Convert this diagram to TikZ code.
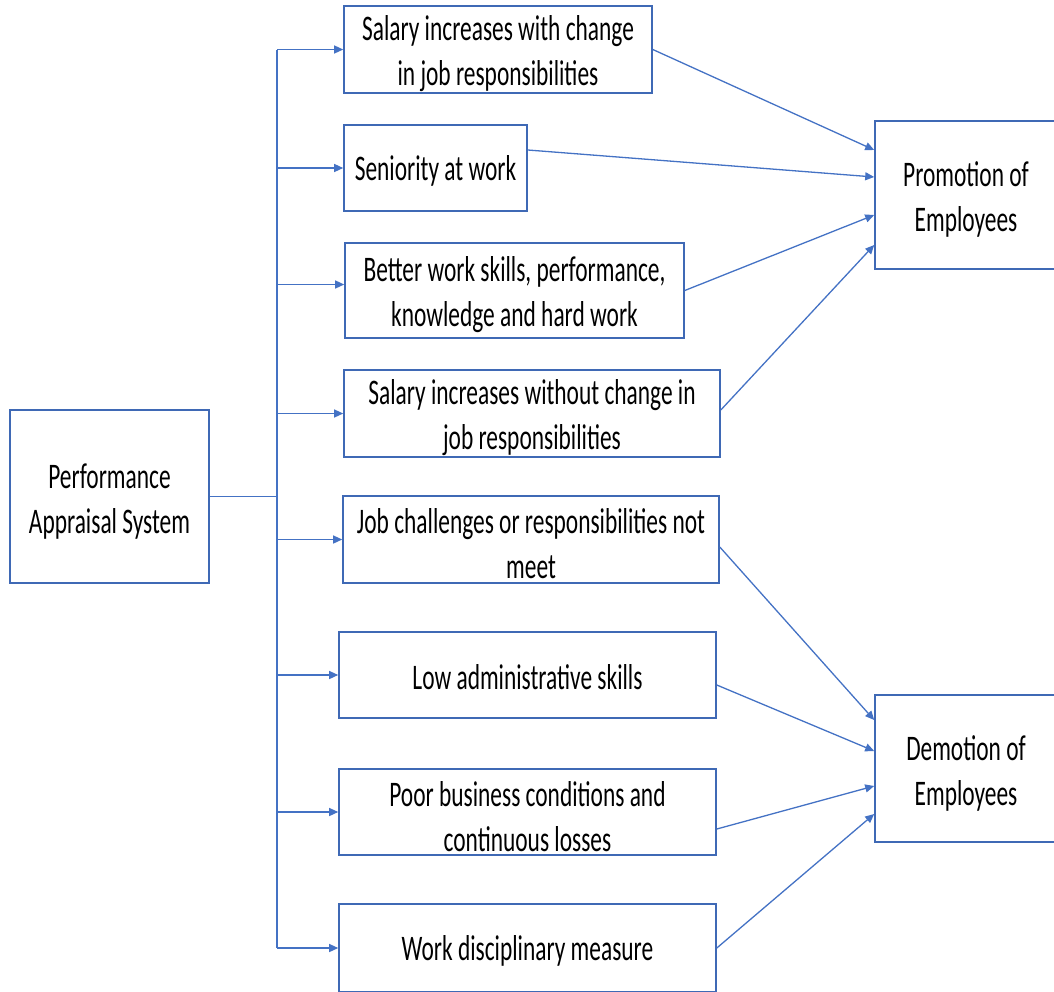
\documentclass[tikz,border=0pt]{standalone}
\usepackage{fontspec}
\setmainfont{Carlito}[FakeStretch=0.65]
\usetikzlibrary{arrows.meta}
\definecolor{office}{HTML}{4472C4}
\definecolor{boxline}{HTML}{3F69B5}

\begin{document}
\begin{tikzpicture}[x=1pt,y=-1pt,
  box/.style={draw=boxline, line width=1.6pt, fill=white, inner sep=0pt,
    align=center, font=\fontsize{36}{45}\selectfont,
    execute at begin node={\rule{0pt}{30pt}}},
  twoline/.style={execute at begin node={\rule{0pt}{79pt}}},
  link/.style={draw=office, line width=1.3pt, -{Triangle[length=9pt,width=8pt]}},
  trunk/.style={draw=office, line width=1.3pt}]
\useasboundingbox (0,0) rectangle (1054,991);
\clip (0,0) rectangle (1054,991);

% source
\node[box, twoline, minimum width=199pt, minimum height=173pt] (pas) at (109.5,496.5)
  {Performance\\Appraisal System};

% factors
\node[box, twoline, minimum width=308pt, minimum height=87pt] (b1) at (498,49.5)
  {Salary increases with change\\in job responsibilities};
\node[box, minimum width=183pt, minimum height=86pt] (b2) at (435.5,168)
  {Seniority at work};
\node[box, twoline, minimum width=339pt, minimum height=95pt] (b3) at (514.5,290.5)
  {Better work skills, performance,\\knowledge and hard work};
\node[box, twoline, minimum width=376pt, minimum height=87pt] (b4) at (532,413.5)
  {Salary increases without change in\\job responsibilities};
\node[box, twoline, minimum width=376pt, minimum height=87pt] (b5) at (531,539.5)
  {Job challenges or responsibilities not\\meet};
\node[box, minimum width=377pt, minimum height=86pt] (b6) at (527.5,675)
  {Low administrative skills};
\node[box, twoline, minimum width=377pt, minimum height=86pt] (b7) at (527.5,812)
  {Poor business conditions and\\continuous losses};
\node[box, minimum width=377pt, minimum height=88pt] (b8) at (527.5,948)
  {Work disciplinary measure};

% outcomes
\node[box, twoline, minimum width=182pt, minimum height=148pt] (promo) at (966,195)
  {Promotion of\\Employees};
\node[box, twoline, minimum width=182pt, minimum height=147pt] (demo) at (966,768.5)
  {Demotion of\\Employees};

% distribution trunk
\coordinate (tx) at (277,0);
\draw[trunk] (pas.east) -- (tx |- pas.east);
\draw[trunk] (tx |- b1.west) -- (tx |- b8.west);
\foreach \n in {b1,b2,b4,b5,b6,b7,b8}
  \draw[link] (tx |- \n.west) -- (\n.west);
\draw[link] ([yshift=6pt]tx |- b3.west) -- ([yshift=6pt]b3.west);

% to promotion
\draw[link] (b1.east) -- ([yshift=45pt]promo.west);
\draw[link] ([yshift=18pt]b2.east) -- ([yshift=18pt]promo.west);
\draw[link] (b3.east) -- ([yshift=-20pt]promo.west);
\draw[link] ([yshift=3.5pt]b4.east) -- ([yshift=-50pt]promo.west);

% to demotion
\draw[link] ([yshift=-7.5pt]b5.east) -- ([yshift=48.5pt]demo.west);
\draw[link] ([yshift=-10pt]b6.east) -- ([yshift=17.5pt]demo.west);
\draw[link] ([yshift=-17pt]b7.east) -- ([yshift=-17.5pt]demo.west);
\draw[link] (b8.east) -- ([yshift=-45.5pt]demo.west);
\end{tikzpicture}
\end{document}
